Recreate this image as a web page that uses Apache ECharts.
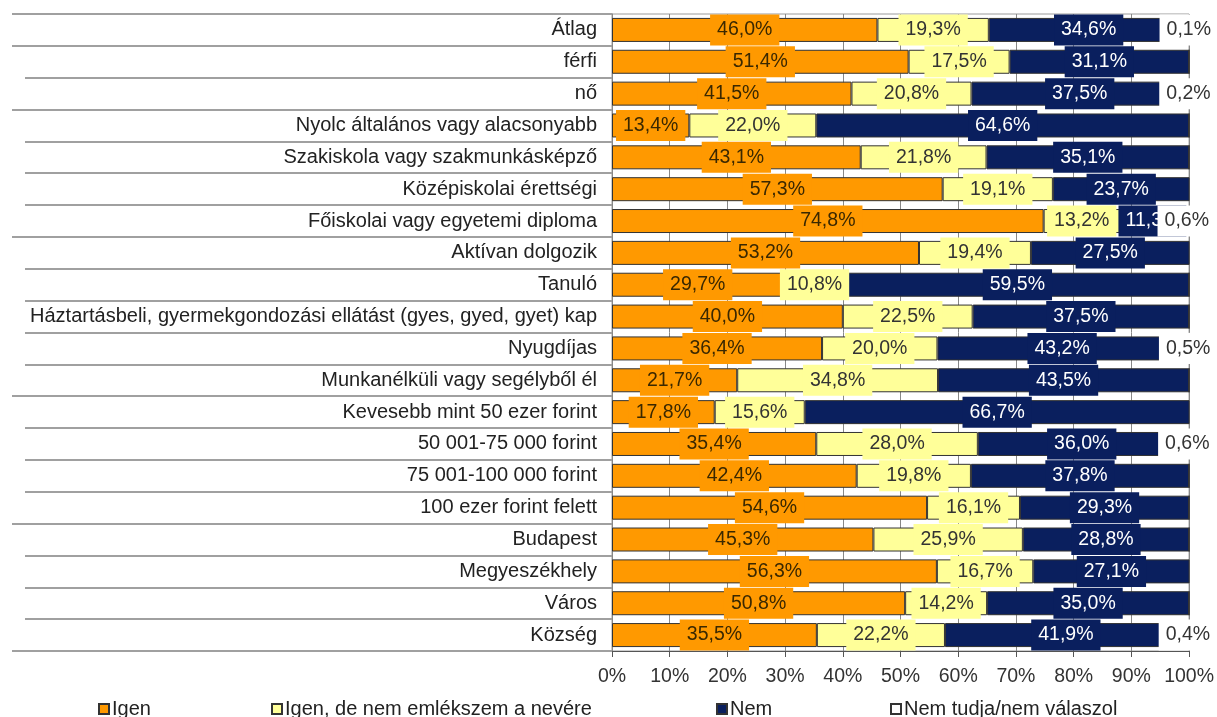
<!DOCTYPE html>
<html>
<head>
<meta charset="utf-8">
<script src="https://cdn.jsdelivr.net/npm/echarts@6/dist/echarts.min.js"></script>
<style>html,body{margin:0;padding:0;background:#fff}#c{width:1217px;height:717px}</style>
</head>
<body>
<div id="c"></div>
<script>
const categories = [
  "Átlag","férfi","nő",
  "Nyolc általános vagy alacsonyabb","Szakiskola vagy szakmunkásképző","Középiskolai érettségi","Főiskolai vagy egyetemi diploma",
  "Aktívan dolgozik","Tanuló","Háztartásbeli, gyermekgondozási ellátást (gyes, gyed, gyet) kap","Nyugdíjas","Munkanélküli vagy segélyből él",
  "Kevesebb mint 50 ezer forint","50 001-75 000 forint","75 001-100 000 forint","100 ezer forint felett",
  "Budapest","Megyeszékhely","Város","Község"
];
const groupStarts = [0, 1, 3, 7, 12, 16, 20];
const seriesNames = ["Igen", "Igen, de nem emlékszem a nevére", "Nem", "Nem tudja/nem válaszol"];
const igen    = [46.0,51.4,41.5,13.4,43.1,57.3,74.8,53.2,29.7,40.0,36.4,21.7,17.8,35.4,42.4,54.6,45.3,56.3,50.8,35.5];
const igenDe  = [19.3,17.5,20.8,22.0,21.8,19.1,13.2,19.4,10.8,22.5,20.0,34.8,15.6,28.0,19.8,16.1,25.9,16.7,14.2,22.2];
const nem     = [34.6,31.1,37.5,64.6,35.1,23.7,11.3,27.5,59.5,37.5,43.2,43.5,66.7,36.0,37.8,29.3,28.8,27.1,35.0,41.9];
const nemTudja= [0.1,0,0.2,0,0,0,0.6,0,0,0,0.5,0,0,0.6,0,0,0,0,0,0.4];
const xTicks = [0,10,20,30,40,50,60,70,80,90,100];

const colors = ['#FF9900', '#FFFF99', '#0A1F5E', '#FFFFFF'];
const textColors = ['#3a2800', '#333333', '#FFFFFF', '#333333'];
const FONT = "'Liberation Sans', Arial, sans-serif";
const fmt = v => v.toFixed(1).replace('.', ',') + '%';

const allData = [igen, igenDe, nem, nemTudja];
const series = allData.map((arr, si) => ({
  name: seriesNames[si],
  type: 'bar',
  stack: 'total',
  barWidth: 24,
  itemStyle: { color: colors[si], borderColor: '#333', borderWidth: 1 },
  label: {
    show: true,
    position: 'inside',
    fontFamily: FONT,
    fontSize: 19.5,
    lineHeight: 21,
    color: textColors[si],
    backgroundColor: colors[si],
    padding: [5, 7],
    formatter: p => fmt(p.value)
  },
  data: arr.map(v => ({ value: v, label: { show: v > 0 } }))
}));

const legendLefts = [93, 266, 711, 885];
const legends = seriesNames.map((n, i) => ({
  data: [n],
  left: legendLefts[i],
  top: 694,
  itemWidth: 10,
  itemHeight: 10,
  itemGap: 3,
  icon: 'rect',
  textStyle: { fontFamily: FONT, fontSize: 20, color: '#222', padding: [0, 0, 0, -2] }
}));

const chart = echarts.init(document.getElementById('c'), null, { renderer: 'canvas' });
chart.setOption({
  animation: false,
  backgroundColor: '#fff',
  textStyle: { fontFamily: FONT },
  legend: legends,
  grid: { left: 612, right: 26, top: 14, bottom: 66, show: true, borderColor: '#9a9a9a', borderWidth: 1, containLabel: false },
  xAxis: {
    type: 'value', min: 0, max: 100, interval: 10,
    axisLine: { show: true, lineStyle: { color: '#555' } },
    axisTick: { show: true, length: 6, lineStyle: { color: '#555' } },
    axisLabel: { fontFamily: FONT, fontSize: 19.5, color: '#333', margin: 16, formatter: v => xTicks.includes(v) ? v + '%' : '' },
    splitLine: { show: true, lineStyle: { color: '#888' } }
  },
  yAxis: [
    {
      type: 'category', inverse: true, data: categories,
      axisLine: { show: true, lineStyle: { color: '#888' } },
      axisTick: { show: true, length: 587, lineStyle: { color: '#a0a0a0', width: 2 } },
      axisLabel: { fontFamily: FONT, fontSize: 20, color: '#222', margin: 15 },
      splitLine: { show: false }
    },
    {
      type: 'category', inverse: true, data: categories, position: 'left',
      axisLine: { show: false },
      axisTick: { show: true, length: 600, interval: (idx) => groupStarts.includes(idx), lineStyle: { color: '#a0a0a0', width: 2 } },
      axisLabel: { show: false },
      splitLine: { show: false }
    }
  ],
  series: series
});
</script>
</body>
</html>
